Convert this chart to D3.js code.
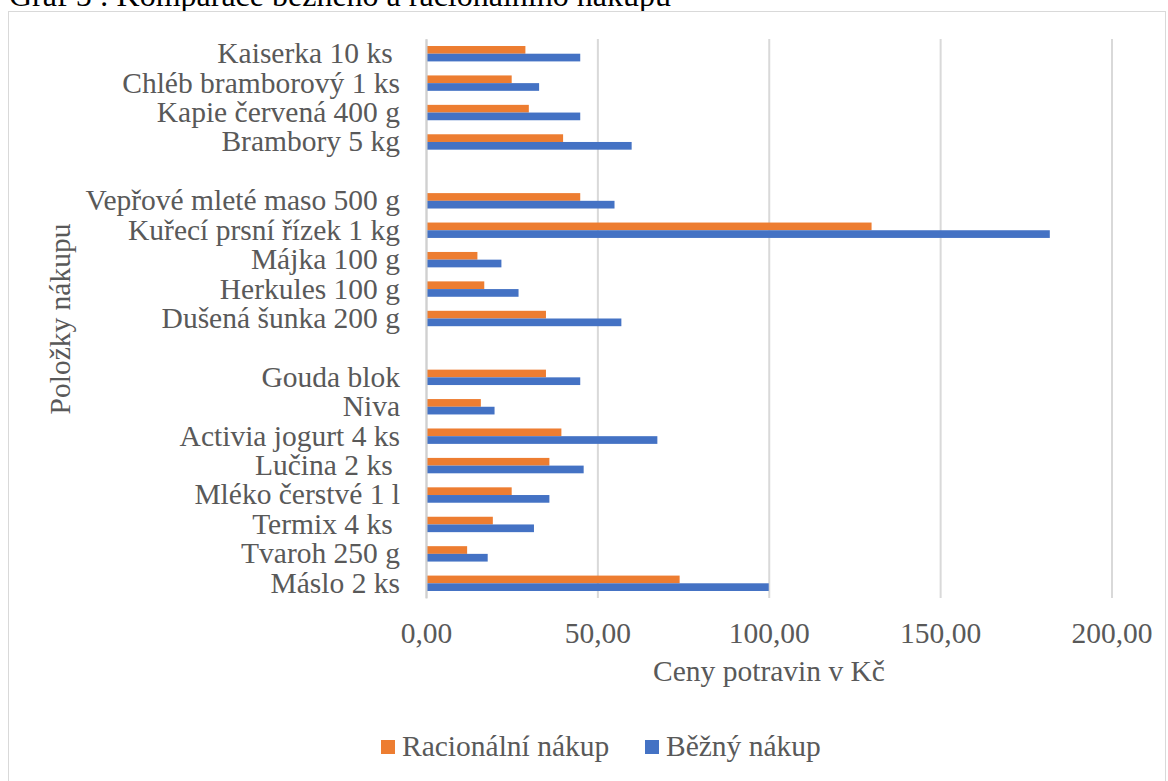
<!DOCTYPE html>
<html>
<head>
<meta charset="utf-8">
<script src="https://cdn.jsdelivr.net/npm/d3@7"></script>
<style>
  html, body { margin: 0; padding: 0; background: #fff; }
  svg { display: block; }
  text { font-family: "Liberation Serif", "Times New Roman", serif; fill: #595959; }
</style>
</head>
<body>
<svg id="chart" width="1168" height="781"></svg>
<script>
// Items, top to bottom; empty strings separate the groups
const categories = [
  "Kaiserka 10 ks ", "Chléb bramborový 1 ks", "Kapie červená 400 g", "Brambory 5 kg",
  "",
  "Vepřové mleté maso 500 g", "Kuřecí prsní řízek 1 kg", "Májka 100 g", "Herkules 100 g", "Dušená šunka 200 g",
  "",
  "Gouda blok", "Niva", "Activia jogurt 4 ks", "Lučina 2 ks ", "Mléko čerstvé 1 l", "Termix 4 ks ", "Tvaroh 250 g", "Máslo 2 ks"
];
// Prices in Kč
const racionalni = [29, 25, 30, 40, null, 45, 130, 15, 17, 35, null, 35, 16, 39.5, 36, 25, 19.5, 12, 74];
const bezny      = [45, 33, 45, 60, null, 55, 182, 22, 27, 57, null, 45, 20, 67.5, 46, 36, 31.5, 18, 100];

const seriesNames = ["Racionální nákup", "Běžný nákup"];
const seriesColors = ["#ED7D31", "#4472C4"];
const xTicks = [0, 50, 100, 150, 200];

const titleText = "Graf 5 : Komparace běžného a racionálního nákupu";
const xTitle = "Ceny potravin v Kč";
const yTitle = "Položky nákupu";

const svg = d3.select("#chart");
const plot = { left: 426, right: 1111.5, top: 39, bottom: 598 };
const fontSize = "29.5px";

// Caption above the chart frame
svg.append("text")
  .attr("x", 9).attr("y", 6)
  .style("font-size", "32px")
  .style("fill", "#000")
  .text(titleText);

// Chart frame
svg.append("rect")
  .attr("x", 8.5).attr("y", 11.5)
  .attr("width", 1157).attr("height", 800)
  .attr("fill", "#fff")
  .attr("stroke", "#d9d9d9").attr("stroke-width", 1);

const czLocale = d3.formatLocale({ decimal: ",", thousands: " ", grouping: [3], currency: ["", " Kč"] });
const fmt = czLocale.format(".2f");

const x = d3.scaleLinear().domain([0, 200]).range([plot.left, plot.right]);
const y = d3.scaleBand()
  .domain(d3.range(categories.length))
  .range([plot.top, plot.bottom])
  .paddingInner(0.4766)
  .paddingOuter(0.4766 / 2);
const ySub = d3.scaleBand().domain([0, 1]).range([0, y.bandwidth()]);

// Vertical gridlines
const grid = svg.append("g")
  .attr("transform", `translate(0,${plot.bottom})`)
  .call(d3.axisBottom(x).tickValues(xTicks).tickSize(-(plot.bottom - plot.top)).tickFormat(""));
grid.select(".domain").remove();
grid.selectAll(".tick line").attr("stroke", "#d9d9d9").attr("stroke-width", 2);

// Value axis labels
const xAxis = svg.append("g")
  .attr("transform", `translate(0,${plot.bottom})`)
  .call(d3.axisBottom(x).tickValues(xTicks).tickSize(0).tickPadding(24).tickFormat(fmt));
xAxis.select(".domain").remove();
xAxis.selectAll("text")
  .attr("font-family", null)
  .style("font-size", fontSize)
  .attr("fill", null);

// Bars
const series = [racionalni, bezny];
series.forEach((vals, si) => {
  svg.append("g")
    .selectAll("rect")
    .data(vals.map((v, i) => ({ v, i })).filter(d => d.v != null))
    .join("rect")
    .attr("x", x(0))
    .attr("y", d => y(d.i) + ySub(si))
    .attr("width", d => x(d.v) - x(0))
    .attr("height", ySub.bandwidth())
    .attr("fill", seriesColors[si]);
});

// Category axis
const yAxis = svg.append("g")
  .attr("transform", `translate(${plot.left},0)`)
  .call(d3.axisLeft(y).tickSize(0).tickPadding(26).tickFormat(i => categories[i]));
yAxis.select(".domain").attr("stroke", "#d0d0d0").attr("stroke-width", 2);
yAxis.selectAll("text")
  .attr("font-family", null)
  .attr("fill", null)
  .style("font-size", fontSize)
  .style("white-space", "pre");

// Axis titles
svg.append("text")
  .attr("x", 769).attr("y", 681)
  .attr("text-anchor", "middle")
  .style("font-size", fontSize)
  .text(xTitle);

svg.append("text")
  .attr("transform", "translate(70,319) rotate(-90)")
  .attr("text-anchor", "middle")
  .style("font-size", fontSize)
  .text(yTitle);

// Legend
const legendItems = [
  { name: seriesNames[0], color: seriesColors[0], x: 381 },
  { name: seriesNames[1], color: seriesColors[1], x: 645 }
];
const legend = svg.append("g");
legendItems.forEach(it => {
  legend.append("rect")
    .attr("x", it.x).attr("y", 740)
    .attr("width", 14).attr("height", 14)
    .attr("fill", it.color);
  legend.append("text")
    .attr("x", it.x + 21).attr("y", 756)
    .style("font-size", fontSize)
    .text(it.name);
});
</script>
</body>
</html>
